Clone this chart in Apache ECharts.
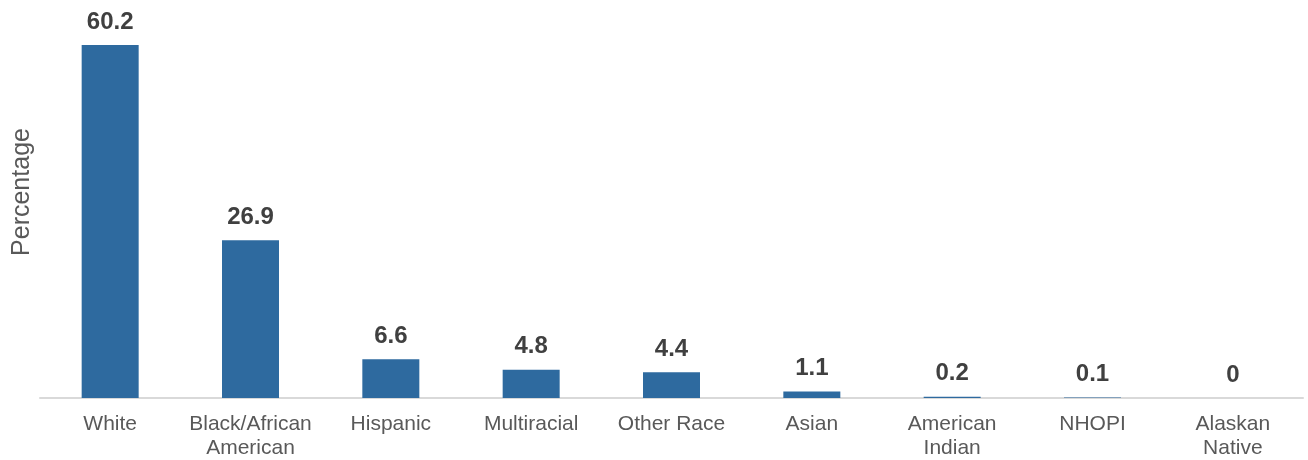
<!DOCTYPE html>
<html>
<head>
<meta charset="utf-8">
<script src="https://cdn.jsdelivr.net/npm/echarts@6/dist/echarts.min.js"></script>
<style>
  html, body { margin: 0; padding: 0; background: #fff; }
  #chart { width: 1308px; height: 460px; }
</style>
</head>
<body>
<div id="chart"></div>
<script>
// Share of population by race (%)
const categories = ['White', 'Black/African\nAmerican', 'Hispanic', 'Multiracial', 'Other Race', 'Asian', 'American\nIndian', 'NHOPI', 'Alaskan\nNative'];
const percentages = [60.2, 26.9, 6.6, 4.8, 4.4, 1.1, 0.2, 0.1, 0];
const yAxisTitle = 'Percentage';

const FONT = '"Liberation Sans", Arial, Helvetica, sans-serif';

const chart = echarts.init(document.getElementById('chart'), null, { renderer: 'canvas' });
chart.setOption({
  animation: false,
  backgroundColor: '#ffffff',
  grid: { left: 40, right: 5, top: 45, bottom: 62, containLabel: false },
  xAxis: {
    type: 'category',
    data: categories,
    axisLine: { show: true, lineStyle: { color: '#d9d9d9', width: 2 } },
    axisTick: { show: false },
    axisLabel: {
      color: '#595959',
      fontFamily: FONT,
      fontSize: 21,
      lineHeight: 24,
      margin: 14,
      interval: 0
    }
  },
  yAxis: {
    type: 'value',
    min: 0,
    max: 'dataMax',
    show: false,
    splitLine: { show: false }
  },
  graphic: [{
    type: 'text',
    x: 22,
    y: 192,
    rotation: Math.PI / 2,
    style: {
      text: yAxisTitle,
      fill: '#595959',
      font: '25px ' + FONT,
      align: 'center',
      verticalAlign: 'middle'
    }
  }],
  series: [{
    type: 'bar',
    data: percentages,
    barWidth: 57,
    itemStyle: { color: '#2e6a9f' },
    label: {
      show: true,
      position: 'top',
      distance: 11,
      color: '#404040',
      fontFamily: FONT,
      fontSize: 24,
      fontWeight: 'bold'
    }
  }]
});
</script>
</body>
</html>
